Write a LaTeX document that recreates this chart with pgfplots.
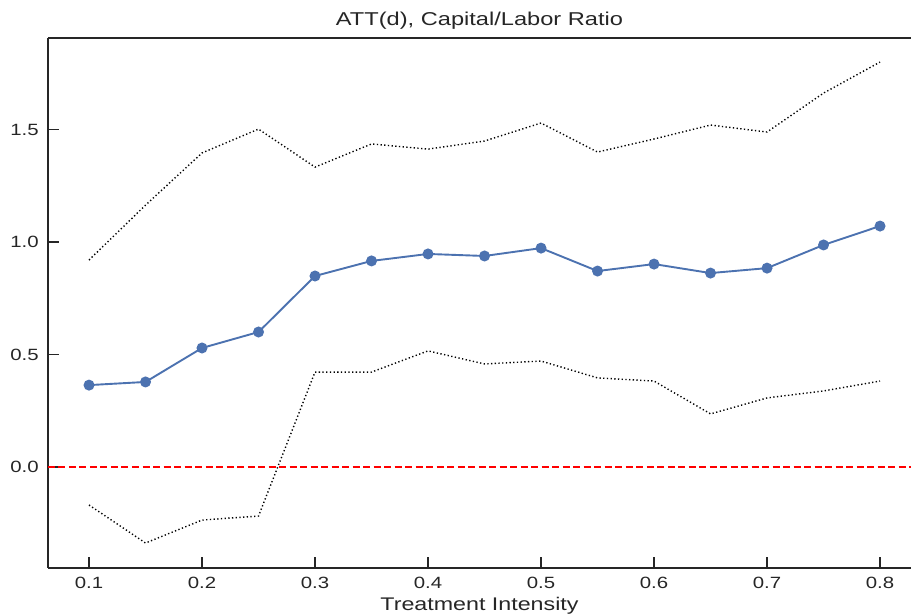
\documentclass[border=0pt]{standalone}
\usepackage{pgfplots}
\pgfplotsset{compat=1.18}
\usepackage{fontspec}
\setmainfont{Liberation Sans}
\definecolor{sbblue}{HTML}{4C72B0}
\definecolor{spine}{HTML}{262626}
\begin{document}
\begin{tikzpicture}
\begin{axis}[
  at={(0pt,0pt)}, anchor=south west,
  scale only axis, width=863pt, height=530pt,
  xmin=0.0637, xmax=0.8274, ymin=-0.449, ymax=1.907,
  axis x line*=box, axis y line*=left,
  axis line style={spine, line width=1.6pt},
  xtick={0.1,0.2,...,0.8}, ytick={0,0.5,1,1.5},
  xtick pos=bottom, ytick pos=left,
  tick align=inside, major tick length=10.5pt,
  tick style={spine, line width=1.5pt},
  /pgf/number format/fixed, /pgf/number format/fixed zerofill, /pgf/number format/precision=1,
  /pgf/number format/assume math mode=true,
  ticklabel style={font=\fontsize{16.3}{19}\selectfont, text=spine, xscale=1.25},
  xticklabel style={yshift=-5.5pt},
  yticklabel style={xshift=-4pt},
  title={ATT(d), Capital/Labor Ratio},
  title style={font=\fontsize{18.6}{22}\selectfont, text=spine, xscale=1.27, yshift=-1pt},
  xlabel={Treatment Intensity},
  xlabel style={font=\fontsize{18.3}{22}\selectfont, text=spine, xscale=1.27, yshift=-2pt},
  clip=false,
]
\addplot[red, line width=1.6pt, dash pattern=on 7pt off 3.5pt] coordinates {(0.0637,0) (0.8274,0)};
\addplot[black, line width=1.4pt, dash pattern=on 1.3pt off 2.4pt] coordinates {
(0.1,0.92) (0.15,1.164) (0.2,1.396) (0.25,1.502) (0.3,1.333) (0.35,1.436) (0.4,1.413) (0.45,1.449) (0.5,1.529) (0.55,1.40) (0.6,1.458) (0.65,1.52) (0.7,1.489) (0.75,1.662) (0.8,1.80)};
\addplot[black, line width=1.4pt, dash pattern=on 1.3pt off 2.4pt] coordinates {
(0.1,-0.169) (0.15,-0.338) (0.2,-0.236) (0.25,-0.218) (0.3,0.422) (0.35,0.422) (0.4,0.516) (0.45,0.458) (0.5,0.471) (0.55,0.396) (0.6,0.382) (0.65,0.236) (0.7,0.307) (0.75,0.338) (0.8,0.382)};
\addplot[sbblue, line width=1.9pt, mark=*, mark size=4.5pt, mark options={solid, fill=sbblue, draw=none}] coordinates {
(0.1,0.364) (0.15,0.378) (0.2,0.529) (0.25,0.600) (0.3,0.849) (0.35,0.916) (0.4,0.947) (0.45,0.938) (0.5,0.973) (0.55,0.871) (0.6,0.902) (0.65,0.862) (0.7,0.884) (0.75,0.987) (0.8,1.071)};
\end{axis}
\pgfresetboundingbox
\path (-48pt,-47pt) rectangle (863pt,568pt);
\end{tikzpicture}
\end{document}
